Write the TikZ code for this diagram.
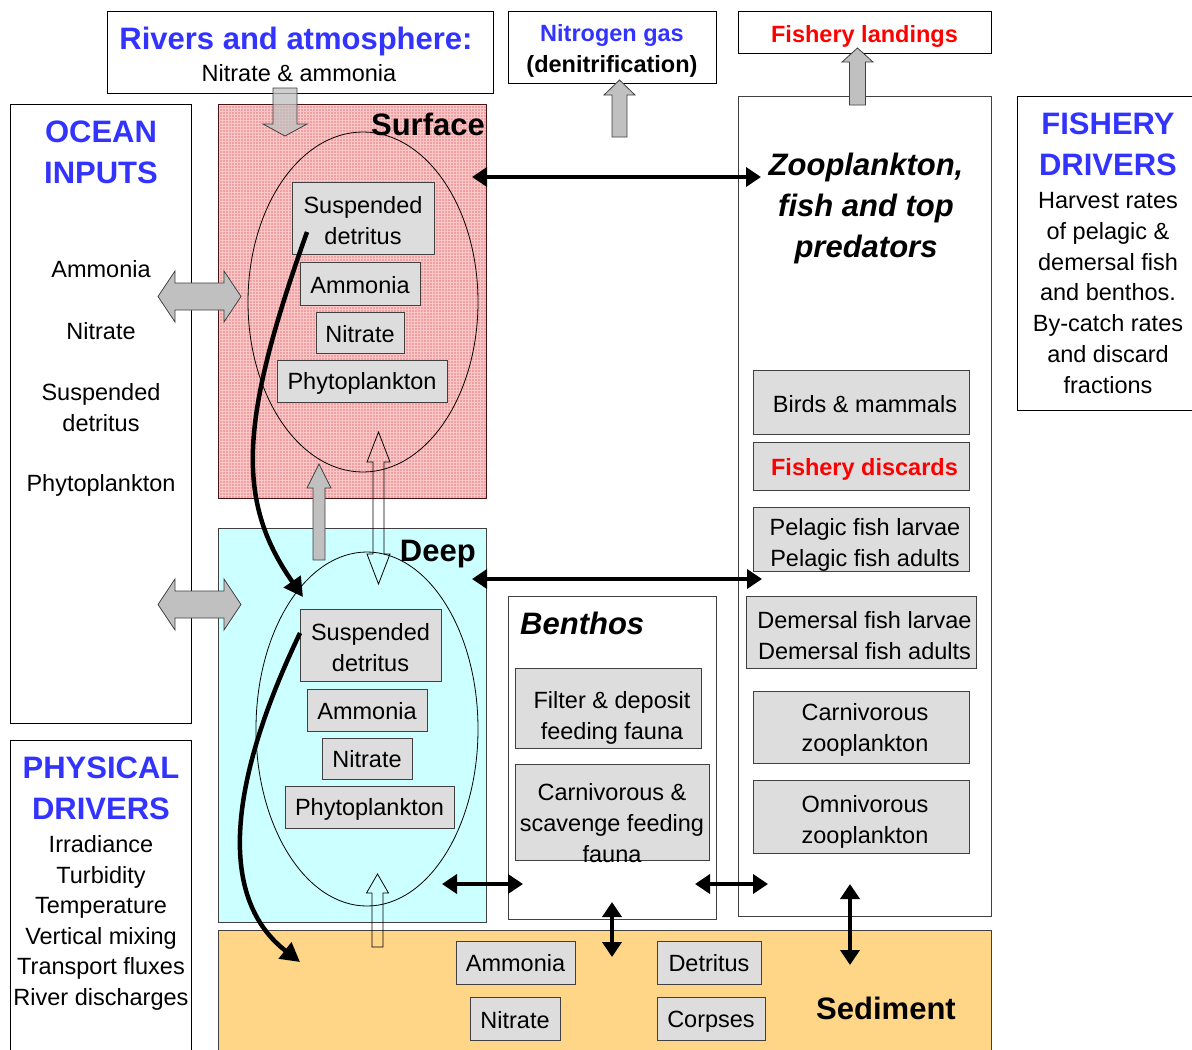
\documentclass[tikz,border=0pt]{standalone}
\usepackage{fontspec}
\setmainfont{Liberation Sans}
\usetikzlibrary{arrows.meta,shapes.geometric,patterns}
\definecolor{tblue}{RGB}{51,51,255}
\definecolor{tred}{RGB}{255,0,0}
\definecolor{pinkbase}{RGB}{240,160,160}
\definecolor{pinkline}{RGB}{250,200,200}
\definecolor{cyanfill}{RGB}{204,255,255}
\definecolor{sedfill}{RGB}{255,214,136}
\definecolor{gboxfill}{RGB}{221,221,221}
\definecolor{gboxline}{RGB}{64,64,64}
\definecolor{garrfill}{RGB}{192,192,192}
\newcommand{\nfont}{\fontsize{23.5}{31}\selectfont}
\newcommand{\hfont}{\fontsize{31}{41}\selectfont\bfseries}
\newcommand{\mfont}{\fontsize{23.5}{30}\selectfont\bfseries}
% single vertical block arrow: style, x, tail, headbase, tip, shaft half, head half
\newcommand{\vblk}[7][]{\draw[#1] ({#2-#6},#3) -- ({#2-#6},#4) -- ({#2-#7},#4) -- (#2,#5) -- ({#2+#7},#4) -- ({#2+#6},#4) -- ({#2+#6},#3) -- cycle;}
% double vertical block arrow: style, x, toptip, topbase, botbase, bottip, shaft half, head half
\newcommand{\vdblk}[8][]{\draw[#1] (#2,#3) -- ({#2+#8},#4) -- ({#2+#7},#4) -- ({#2+#7},#5) -- ({#2+#8},#5) -- (#2,#6) -- ({#2-#8},#5) -- ({#2-#7},#5) -- ({#2-#7},#4) -- ({#2-#8},#4) -- cycle;}
% double horizontal block arrow: style, y, lefttip, leftbase, rightbase, righttip, shaft half, head half
\newcommand{\hdblk}[8][]{\draw[#1] (#3,#2) -- (#4,{#2-#8}) -- (#4,{#2-#7}) -- (#5,{#2-#7}) -- (#5,{#2-#8}) -- (#6,#2) -- (#5,{#2+#8}) -- (#5,{#2+#7}) -- (#4,{#2+#7}) -- (#4,{#2+#8}) -- cycle;}
\begin{document}
\begin{tikzpicture}[x=1pt,y=-1pt,
  frame/.style={draw=black, line width=1pt, inner sep=0pt},
  gbox/.style={draw=gboxline, fill=gboxfill, line width=1pt, inner sep=0pt},
  txt/.style={font=\nfont, align=center, inner sep=0pt},
  head/.style={font=\hfont, align=center, inner sep=0pt},
  garr/.style={draw=gboxline, fill=garrfill, line width=0.8pt},
  harr/.style={draw=black, line width=0.8pt},
  blk/.style={line width=4pt, {Triangle[length=15pt,width=19pt]}-{Triangle[length=15pt,width=19pt]}},
  curv/.style={line width=4.5pt, -{Triangle[length=19pt,width=20pt]}},
  oval/.style={ellipse, draw=black, line width=0.8pt, inner sep=0pt}]
\useasboundingbox (0,0) rectangle (1192,1050);
\fill[white] (0,0) rectangle (1192,1050);

% ---- frames
\node[frame, minimum width=386pt, minimum height=82pt] (rivers) at (300,52) {};
\node[head, text=tblue] (riverst) at (296,41) {Rivers and atmosphere:};
\node[txt] (riverss) at (299,73) {Nitrate \& ammonia};

\node[frame, minimum width=208pt, minimum height=72pt] (nitro) at (612,47) {};
\node[font=\mfont, text=tblue, inner sep=0pt] (nitrot) at (612,35) {Nitrogen gas};
\node[font=\mfont, inner sep=0pt] (nitros) at (612,66) {(denitrification)};

\node[frame, minimum width=253pt, minimum height=42pt] (land) at (864.5,32) {};
\node[font=\mfont, text=tred, inner sep=0pt] (landt) at (864.5,36) {Fishery landings};

\node[frame, minimum width=181pt, minimum height=619pt] (ocean) at (100.5,413.5) {};
\node[head, text=tblue] (oceant) at (101,152.5) {OCEAN\\INPUTS};
\node[txt] (oc1) at (101,269) {Ammonia};
\node[txt] (oc2) at (101,331) {Nitrate};
\node[txt] (oc3) at (101,408) {Suspended\\detritus};
\node[txt] (oc4) at (101,485) {Phytoplankton};

\node[frame, minimum width=181pt, minimum height=322pt] (phys) at (100.5,901) {};
\node[head, text=tblue] (physt) at (101,788.5) {PHYSICAL\\DRIVERS};
\node[txt, font=\fontsize{23.5}{30.6}\selectfont] (physl) at (101,923) {Irradiance\\Turbidity\\Temperature\\Vertical mixing\\Transport fluxes\\River discharges};

\node[frame, minimum width=188pt, minimum height=314pt] (fdrv) at (1111,253) {};
\node[head, text=tblue] (fdrvt) at (1108,144) {FISHERY\\DRIVERS};
\node[txt, font=\fontsize{23.5}{30.8}\selectfont] (fdrvl) at (1108,293) {Harvest rates\\of pelagic \&\\demersal fish\\and benthos.\\By-catch rates\\and discard\\fractions};

% ---- water column boxes
\node[frame, draw={rgb,255:red,70;green,20;blue,20}, preaction={fill=pinkbase}, pattern=grid, pattern color=pinkline, minimum width=268pt, minimum height=394pt] (surf) at (352,301) {};
\node[head, anchor=east] (surft) at (485,124) {Surface};

\node[frame, draw=gboxline, fill=cyanfill, minimum width=268pt, minimum height=394pt] (deep) at (352,725) {};
\node[head, anchor=east] (deept) at (476,554) {Deep};

\node[frame, fill=sedfill, draw=gboxline, minimum width=773pt, minimum height=132pt] (sed) at (604.5,996) {};
\node[head] (sedt) at (886,1008) {Sediment};

\node[frame, draw=gboxline, fill=white, minimum width=208pt, minimum height=323pt] (benth) at (612,757.5) {};
\node[head, font=\hfont\itshape, anchor=west] (bentht) at (520,623) {Benthos};

\node[frame, draw=gboxline, fill=white, minimum width=253pt, minimum height=820pt] (zoo) at (864.5,506) {};
\node[head, font=\hfont\itshape] (zoot) at (866,208) {Zooplankton,\\fish and top\\predators};

% ---- ellipses
\node[oval, minimum width=230pt, minimum height=340pt] (ellS) at (363,302) {};
\node[oval, minimum width=222pt, minimum height=354pt] (ellD) at (367,729) {};

% ---- surface compartments
\node[gbox, minimum width=142pt, minimum height=72pt] (sd1) at (363,218) {};
\node[txt] (sd1t) at (363,221) {Suspended\\detritus};
\node[gbox, minimum width=120pt, minimum height=43pt] (am1) at (360,283.5) {};
\node[txt] (am1t) at (360,285.5) {Ammonia};
\node[gbox, minimum width=88pt, minimum height=41pt] (ni1) at (360,332.5) {};
\node[txt] (ni1t) at (360,334) {Nitrate};
\node[gbox, minimum width=170pt, minimum height=42pt] (ph1) at (362,381) {};
\node[txt] (ph1t) at (362,383) {Phytoplankton};

% ---- deep compartments
\node[gbox, minimum width=141pt, minimum height=72pt] (sd2) at (370.5,645) {};
\node[txt] (sd2t) at (370.5,647.5) {Suspended\\detritus};
\node[gbox, minimum width=120pt, minimum height=42pt] (am2) at (367,710) {};
\node[txt] (am2t) at (367,711) {Ammonia};
\node[gbox, minimum width=90pt, minimum height=41pt] (ni2) at (367,758.5) {};
\node[txt] (ni2t) at (367,759.5) {Nitrate};
\node[gbox, minimum width=169pt, minimum height=42pt] (ph2) at (369.5,807) {};
\node[txt] (ph2t) at (369.5,809.5) {Phytoplankton};

% ---- sediment compartments
\node[gbox, minimum width=119pt, minimum height=43pt] (am3) at (515.5,962.5) {};
\node[txt] (am3t) at (515.5,963.5) {Ammonia};
\node[gbox, minimum width=90pt, minimum height=43pt] (ni3) at (515,1018.5) {};
\node[txt] (ni3t) at (515,1020.5) {Nitrate};
\node[gbox, minimum width=104pt, minimum height=43pt] (de3) at (709,962.5) {};
\node[txt] (de3t) at (709,963.5) {Detritus};
\node[gbox, minimum width=108pt, minimum height=43pt] (co3) at (711,1018.5) {};
\node[txt] (co3t) at (711,1021.5) {Corpses};

% ---- benthos compartments
\node[gbox, minimum width=186pt, minimum height=80pt] (filt) at (608,708) {};
\node[txt] (filtt) at (612,717.5) {Filter \& deposit\\feeding fauna};
\node[gbox, minimum width=194pt, minimum height=96pt] (carn) at (612,812) {};
\node[txt] (carnt) at (612,823.5) {Carnivorous \&\\scavenge feeding\\fauna};

% ---- zooplankton / fish compartments
\node[gbox, minimum width=216pt, minimum height=64pt] (birds) at (861,402) {};
\node[txt] (birdst) at (865,404) {Birds \& mammals};
\node[gbox, minimum width=216pt, minimum height=48pt] (disc) at (861,466) {};
\node[font=\mfont, text=tred, inner sep=0pt] (disct) at (864.5,469) {Fishery discards};
\node[gbox, minimum width=216pt, minimum height=64pt] (pel) at (861,539) {};
\node[txt] (pelt) at (865,544.5) {Pelagic fish larvae\\Pelagic fish adults};
\node[gbox, minimum width=230pt, minimum height=72pt] (dem) at (861,632) {};
\node[txt] (demt) at (864.5,636) {Demersal fish larvae\\Demersal fish adults};
\node[gbox, minimum width=216pt, minimum height=72pt] (cz) at (861,727) {};
\node[txt] (czt) at (865,730) {Carnivorous\\zooplankton};
\node[gbox, minimum width=216pt, minimum height=73pt] (oz) at (861,816.5) {};
\node[txt] (ozt) at (865,821.5) {Omnivorous\\zooplankton};

% ---- grey block arrows
\vblk[garr, fill opacity=0.75]{285}{88}{124}{136}{12}{22}
\vblk[garr]{619.5}{137}{95}{80}{7.5}{15.5}
\vblk[garr]{857.5}{105}{62}{48}{8}{15.5}
\vblk[garr]{319}{560}{488}{464}{6}{12}
\hdblk[garr]{296.5}{158}{175}{224}{241}{13.5}{25.5}
\hdblk[garr]{604.5}{158}{175}{224}{241}{13.5}{25.5}

% ---- hollow arrows
\vdblk[harr]{378.5}{432}{462}{554}{584}{5.5}{11.5}
\vblk[harr]{377.5}{947}{893}{874}{5.5}{11}

% ---- black exchange arrows
\coordinate (a1) at (472,177);  \coordinate (a2) at (761,177);
\coordinate (b1) at (472,579);  \coordinate (b2) at (762,579);
\coordinate (c1) at (442,884);  \coordinate (c2) at (523,884);
\coordinate (d1) at (695,884);  \coordinate (d2) at (768,884);
\coordinate (e1) at (612,902);  \coordinate (e2) at (612,957);
\coordinate (f1) at (850,884);  \coordinate (f2) at (850,965);
\draw[blk] (a1) -- (a2);
\draw[blk] (b1) -- (b2);
\draw[blk] (c1) -- (c2);
\draw[blk] (d1) -- (d2);
\draw[blk] (e1) -- (e2);
\draw[blk] (f1) -- (f2);

% ---- sinking detritus
\coordinate (s1) at (307,232);
\coordinate (s2) at (303,597);
\coordinate (t1) at (300,633);
\coordinate (t2) at (300,962);
\draw[curv] (s1) .. controls (240,420) and (235,500) .. (s2);
\draw[curv] (t1) .. controls (225,790) and (220,900) .. (t2);
\end{tikzpicture}
\end{document}
